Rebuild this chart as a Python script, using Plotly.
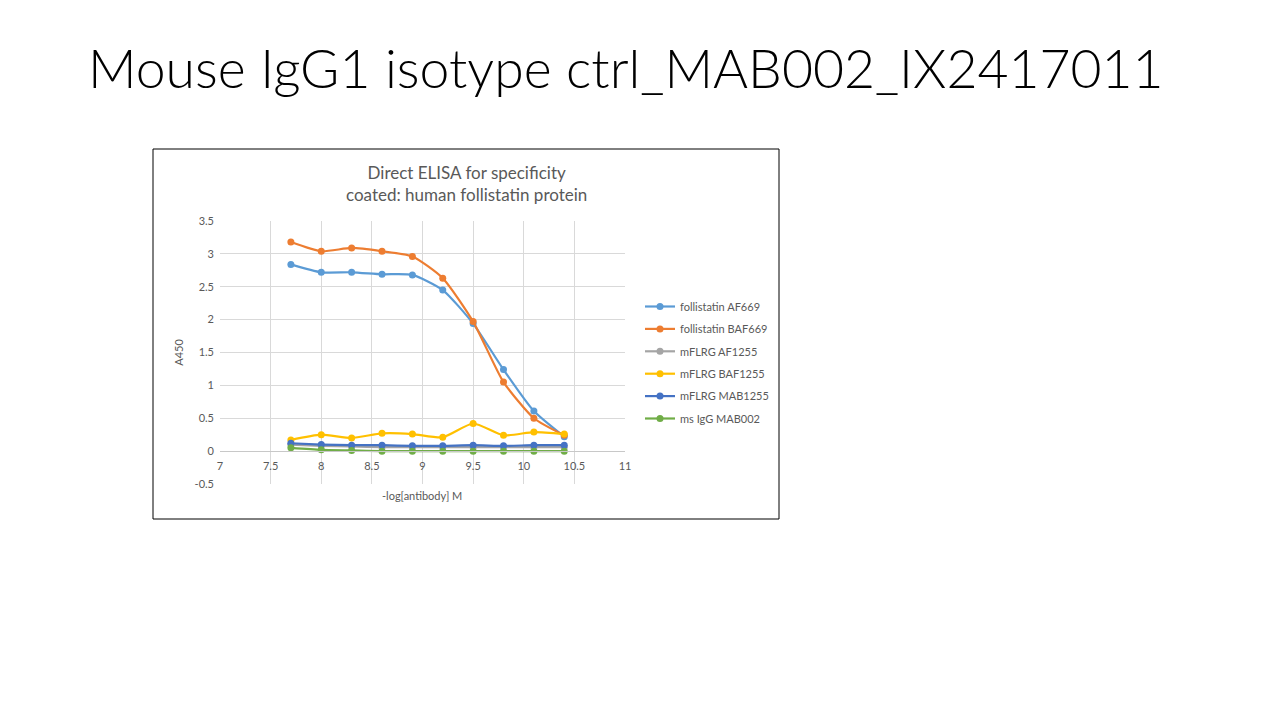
import plotly.graph_objects as go

# -log[antibody] M
log_conc = [7.7, 8.0, 8.3, 8.6, 8.9, 9.2, 9.5, 9.8, 10.1, 10.4]

series_names = ["follistatin AF669", "follistatin BAF669", "mFLRG AF1255",
                "mFLRG BAF1255", "mFLRG MAB1255", "ms IgG MAB002"]
fst_af669 = [2.84, 2.72, 2.72, 2.69, 2.68, 2.45, 1.94, 1.24, 0.61, 0.22]
fst_baf669 = [3.18, 3.04, 3.09, 3.04, 2.96, 2.63, 1.97, 1.05, 0.50, 0.24]
flrg_af1255 = [0.10, 0.08, 0.07, 0.06, 0.06, 0.06, 0.06, 0.06, 0.06, 0.06]
flrg_baf1255 = [0.17, 0.25, 0.20, 0.27, 0.26, 0.21, 0.42, 0.24, 0.29, 0.26]
flrg_mab1255 = [0.12, 0.10, 0.09, 0.09, 0.08, 0.08, 0.09, 0.08, 0.09, 0.09]
msigg_mab002 = [0.05, 0.02, 0.01, 0.00, 0.00, 0.00, 0.00, 0.00, 0.00, 0.00]

series_values = [fst_af669, fst_baf669, flrg_af1255, flrg_baf1255, flrg_mab1255, msigg_mab002]
colors = ["#5B9BD5", "#ED7D31", "#A5A5A5", "#FFC000", "#4472C4", "#70AD47"]

x_ticks = [7, 7.5, 8, 8.5, 9, 9.5, 10, 10.5, 11]
y_ticks = [-0.5, 0, 0.5, 1, 1.5, 2, 2.5, 3, 3.5]

# page has an 8px body margin, so work in page pixels and shift
OFF = 8
W, H = 1280 - 2 * OFF, 720 - 2 * OFF
# plot area in page pixels
L, R, T, B = 220, 625, 221, 484
pw, ph = R - L, B - T


def px_x(x):
    return (x - L) / pw


def px_y(y):
    return (B - y) / ph


fig = go.Figure()
for name, vals, col in zip(series_names, series_values, colors):
    fig.add_trace(go.Scatter(
        x=log_conc, y=vals, name=name, mode="lines+markers",
        line=dict(color=col, width=2.2, shape="spline", smoothing=0.6),
        marker=dict(color=col, size=7),
        legendgroup=name))

grid = "#D9D9D9"
tick_font = dict(family="Lato, Open Sans, sans-serif", size=11, color="#595959")

fig.update_layout(
    width=W, height=H,
    margin=dict(l=L - OFF, r=W - (R - OFF), t=T - OFF, b=H - (B - OFF)),
    paper_bgcolor="white", plot_bgcolor="white",
    showlegend=True,
    legend=dict(x=px_x(640), y=px_y(292), xanchor="left", yanchor="top",
                bgcolor="rgba(0,0,0,0)",
                font=dict(family="Lato, Open Sans, sans-serif", size=11, color="#595959"),
                traceorder="grouped", tracegroupgap=3.4, itemwidth=30),
    xaxis=dict(range=[7, 11], tickvals=x_ticks, ticktext=[f"{v:g}" for v in x_ticks],
               showgrid=True, gridcolor=grid, gridwidth=1, zeroline=False,
               anchor="free", position=0.125, showline=True, linecolor="#C8C8C8",
               ticks="", tickfont=tick_font, ticklabelstandoff=5),
    yaxis=dict(range=[-0.5, 3.5], tickvals=y_ticks, ticktext=[f"{v:g}" for v in y_ticks],
               showgrid=True, gridcolor=grid, gridwidth=1, zeroline=False,
               showline=False, ticks="", tickfont=tick_font, ticklabelstandoff=5,
               title=dict(text="A450", font=tick_font, standoff=8)),
    font=dict(family="Lato, Open Sans, sans-serif"),
)

# chart border box
fig.add_shape(type="rect", xref="paper", yref="paper",
              x0=px_x(153), x1=px_x(779), y0=px_y(519), y1=px_y(149),
              line=dict(color="black", width=1), fillcolor="rgba(0,0,0,0)", layer="below")

# chart title
fig.add_annotation(xref="paper", yref="paper", x=px_x(466), y=px_y(183),
                   xanchor="center", yanchor="middle",
                   text="Direct ELISA for specificity<br>coated: human follistatin protein",
                   showarrow=False, align="center",
                   font=dict(family="Lato, Open Sans, sans-serif", size=17, color="#595959"))

# x axis title
fig.add_annotation(xref="paper", yref="paper", x=px_x(422), y=px_y(495),
                   xanchor="center", yanchor="middle",
                   text="-log[antibody] M", showarrow=False,
                   font=tick_font)

# slide title
fig.add_annotation(xref="paper", yref="paper", x=px_x(626), y=px_y(67),
                   xanchor="center", yanchor="middle",
                   text="Mouse IgG1 isotype ctrl_MAB002_IX2417011", showarrow=False,
                   font=dict(family="Lato", size=53.5, color="black", weight=300))

fig.write_html("out.html")
